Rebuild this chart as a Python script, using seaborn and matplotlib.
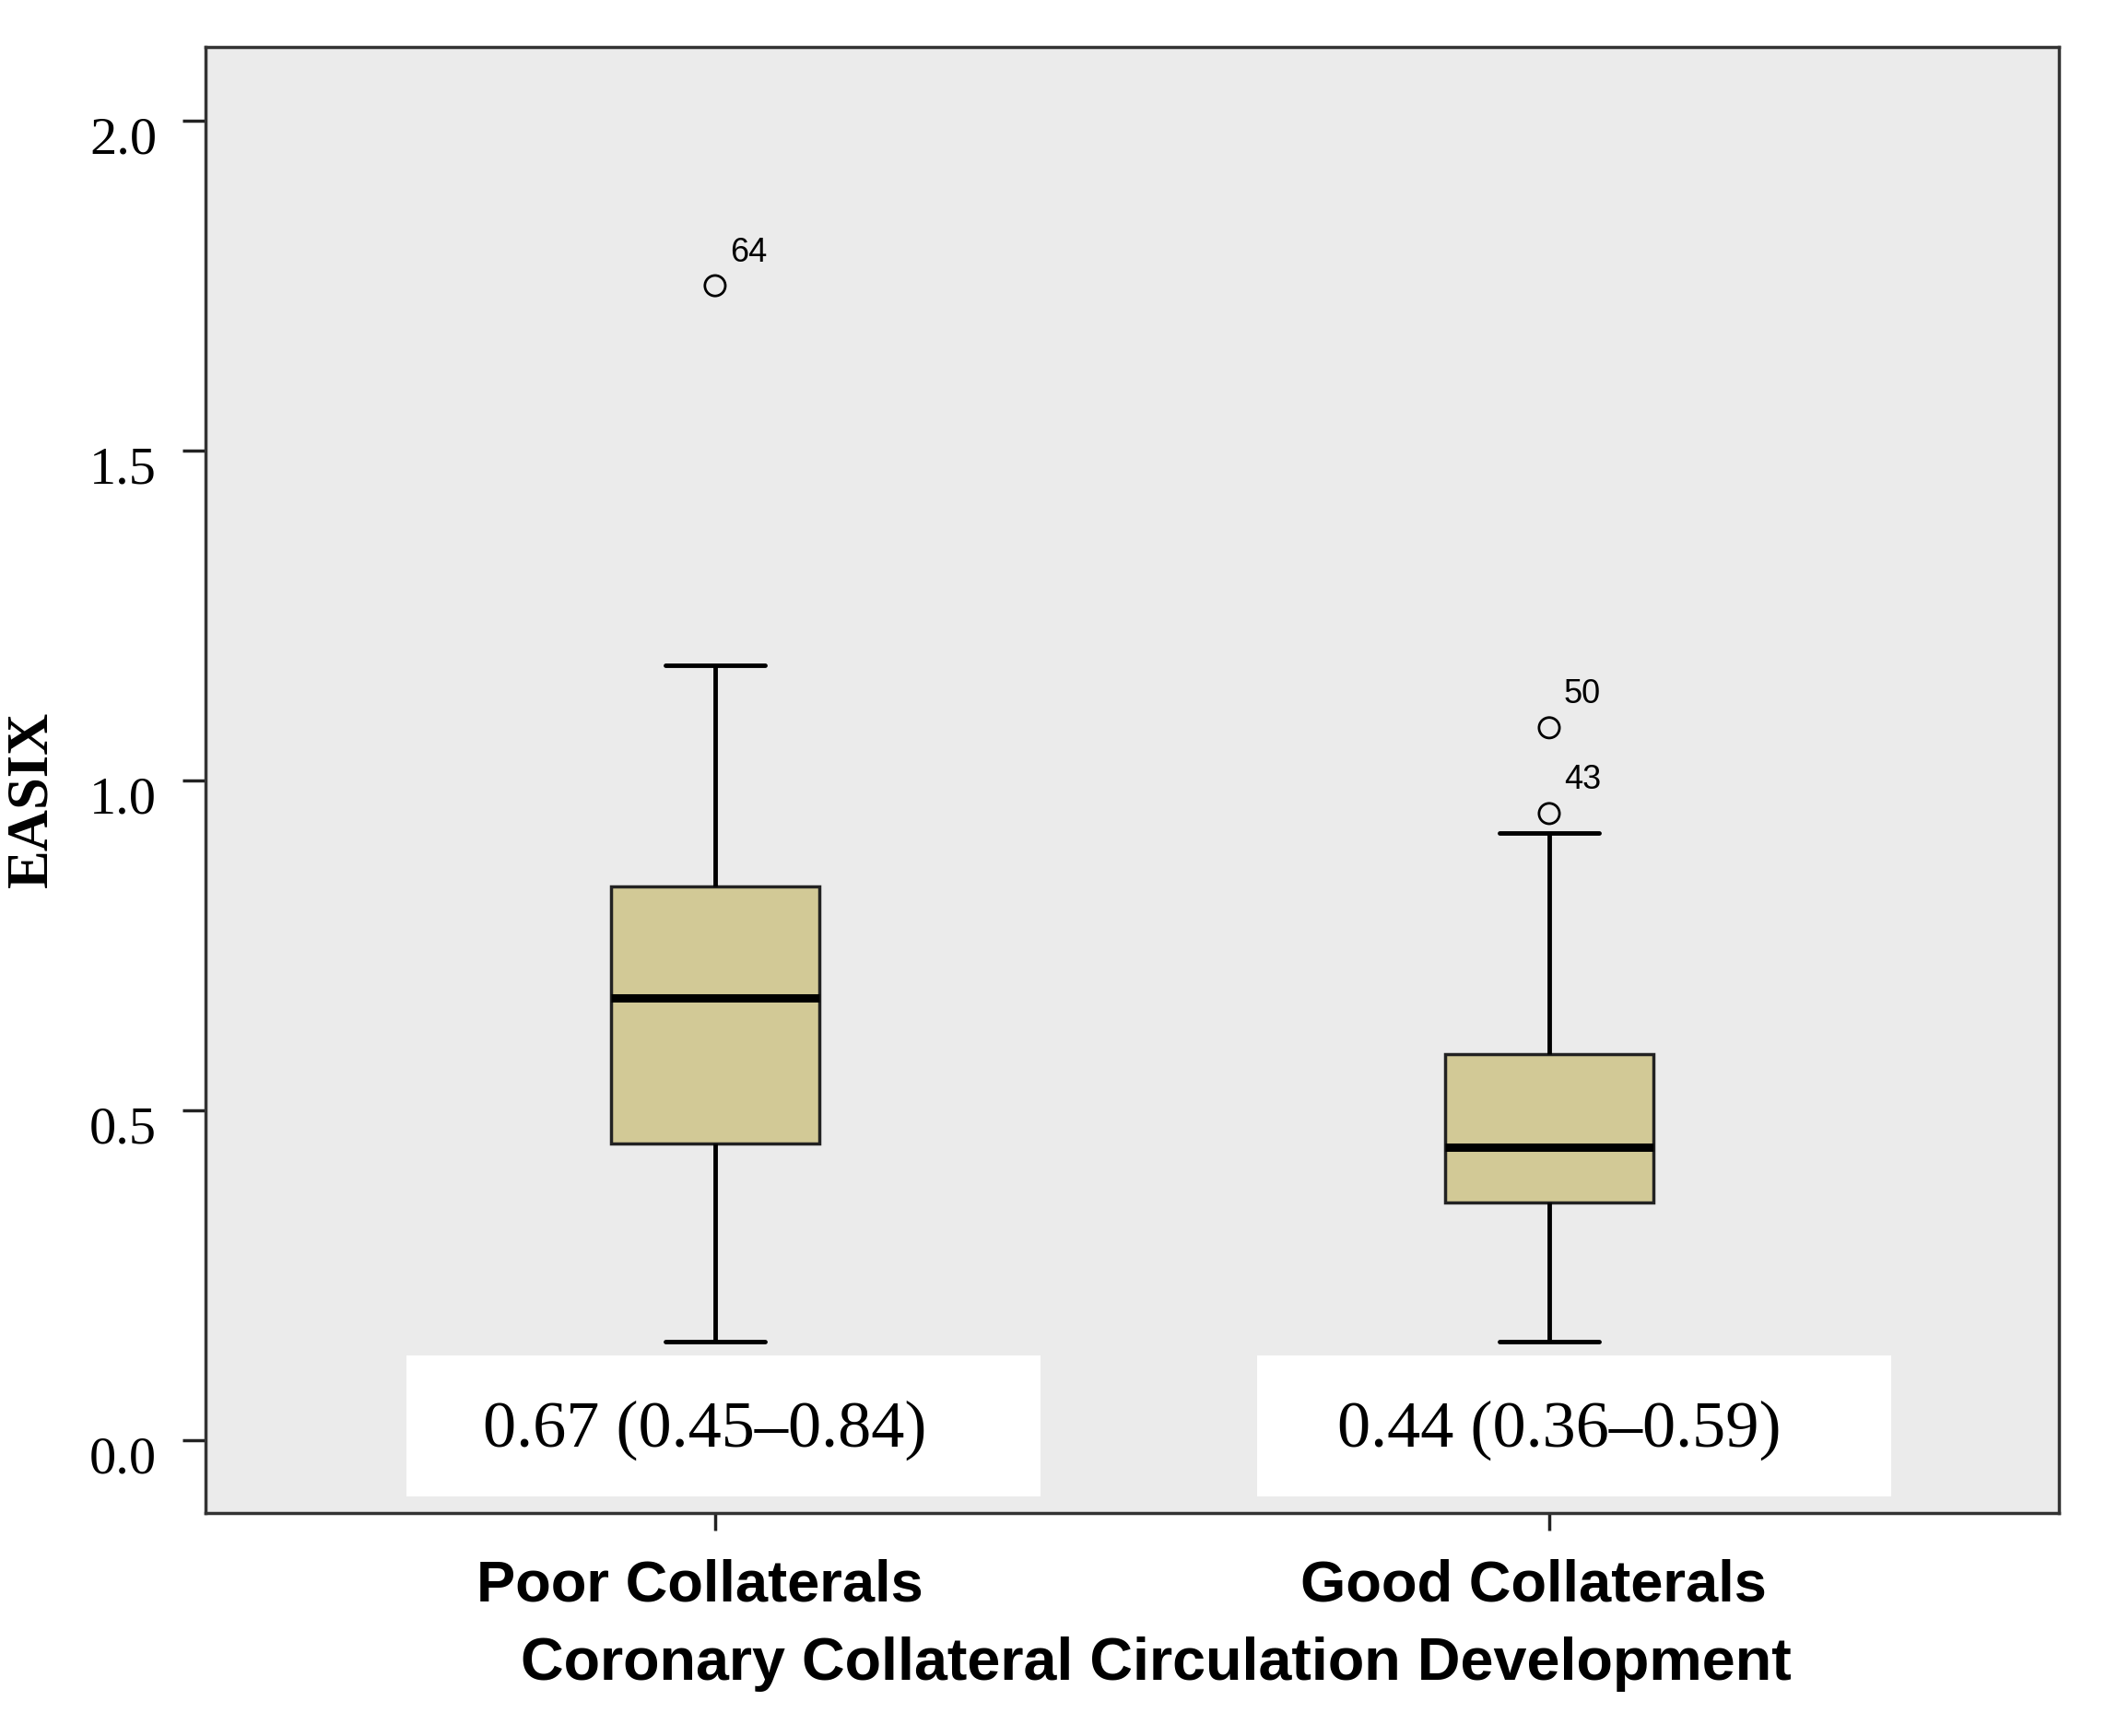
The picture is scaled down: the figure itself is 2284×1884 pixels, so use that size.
import pandas as pd
import numpy as np
import matplotlib.pyplot as plt
import matplotlib.transforms as mtransforms
from matplotlib.patches import Rectangle
import seaborn as sns

# five-number summaries
groups = ["Poor Collaterals", "Good Collaterals"]
whisker_low = [0.15, 0.15]
q1 = [0.45, 0.36]
medians = [0.67, 0.445]
q3 = [0.84, 0.585]
whisker_high = [1.175, 0.92]

# labelled outliers
outlier_group = ["Poor Collaterals", "Good Collaterals", "Good Collaterals"]
outlier_value = [1.75, 1.08, 0.95]
outlier_id = ["64", "50", "43"]

summary_text = ["0.67 (0.45\u20130.84)", "0.44 (0.36\u20130.59)"]
ytick_values = [0.0, 0.5, 1.0, 1.5, 2.0]

# long table, five rows per group -> quartiles come out exactly with whis=(0, 100)
rows = []
for i, g in enumerate(groups):
    for v in [whisker_low[i], q1[i], medians[i], q3[i], whisker_high[i]]:
        rows.append({"group": g, "EASIX": v})
df = pd.DataFrame(rows)

sns.set_theme(style="white")
plt.rcParams["font.family"] = ["Liberation Serif", "DejaVu Serif"]
plt.rcParams["text.color"] = "black"
plt.rcParams["axes.labelcolor"] = "black"
plt.rcParams["xtick.color"] = "black"
plt.rcParams["ytick.color"] = "black"

fig = plt.figure(figsize=(22.84, 18.84), dpi=100)
ax = fig.add_axes([0.0976, 0.1285, 0.8805, 0.8445])
ax.set_facecolor("#ebebeb")

box_color = "#d2c996"
sns.boxplot(data=df, x="group", y="EASIX", order=groups, whis=(0, 100),
            width=0.25, color=box_color, saturation=1, linecolor="black",
            linewidth=2.5, fliersize=0, capwidths=0.12,
            medianprops=dict(linewidth=6.5, color="black"),
            whiskerprops=dict(linewidth=3.5, color="black"),
            capprops=dict(linewidth=3.5, color="black"),
            boxprops=dict(edgecolor="#222222"),
            ax=ax)

# outliers with case numbers
ox = [groups.index(g) for g in outlier_group]
ax.scatter(ox, outlier_value, s=16 ** 2, facecolors="none", edgecolors="black",
           linewidths=2, zorder=4)
for x, y, lab in zip(ox, outlier_value, outlier_id):
    ax.annotate(lab, (x, y), xytext=(16, 36), textcoords="offset pixels",
                ha="left", va="center", fontsize=26, family="Liberation Sans",
                color="black")

# white boxes with median (IQR)
box_shift = [0.0, 0.02]
text_shift = [-0.012, 0.012]
for i, txt in enumerate(summary_text):
    ax.add_patch(Rectangle((i - 0.37 + box_shift[i], -0.085), 0.76, 0.213,
                           facecolor="white", edgecolor="none", zorder=1.5))
    ax.text(i + text_shift[i], 0.015, txt, ha="center", va="center",
            fontsize=52, family="Liberation Serif", color="black", zorder=3)

ax.set_xlim(-0.611, 1.611)
ax.set_ylim(-0.11, 2.112)

ax.set_yticks(ytick_values)
ax.set_yticklabels([f"{v:.1f}" for v in ytick_values], fontsize=42,
                   family="Liberation Serif")
ax.set_xticks(range(len(groups)))
ax.set_xticklabels(groups, fontsize=45.5, family="Liberation Sans",
                   fontweight="bold")
ax.tick_params(axis="y", left=True, direction="out", length=18, width=2.5,
               pad=20, color="#222222")
ax.tick_params(axis="x", bottom=True, direction="out", length=14, width=2.5,
               pad=22, color="#222222")
yshift = mtransforms.ScaledTranslation(0, -11 / 72, fig.dpi_scale_trans)
for lab in ax.get_yticklabels():
    lab.set_transform(lab.get_transform() + yshift)
xshift = mtransforms.ScaledTranslation(-12 / 72, 0, fig.dpi_scale_trans)
for lab in ax.get_xticklabels():
    lab.set_transform(lab.get_transform() + xshift)

for sp in ax.spines.values():
    sp.set_color("#333333")
    sp.set_linewidth(2.5)

ax.set_xlabel("Coronary Collateral Circulation Development", fontsize=46.5,
              family="Liberation Sans", fontweight="bold")
ax.xaxis.label.set_va("center")
ax.xaxis.set_label_coords(0.513, -0.103)
ax.set_ylabel("EASIX", fontsize=45, family="Liberation Serif",
              fontweight="bold")
ax.yaxis.label.set_va("center")
ax.yaxis.set_label_coords(-0.0935, 0.487)

fig.savefig("out.png", dpi=100, facecolor="white")
